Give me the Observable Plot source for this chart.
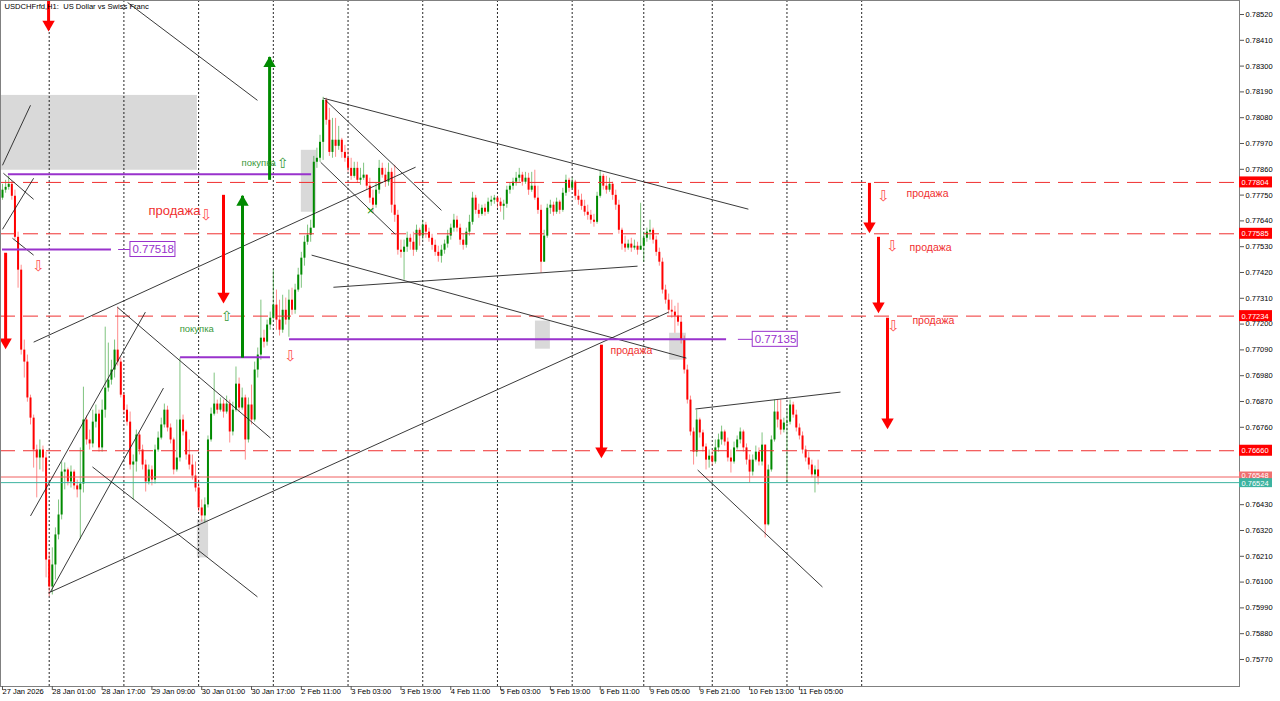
<!DOCTYPE html>
<html><head><meta charset="utf-8">
<script src="https://cdn.jsdelivr.net/npm/d3@7"></script>
<script src="https://cdn.jsdelivr.net/npm/@observablehq/plot@0.6"></script>
<style>html,body{margin:0;padding:0;background:#fff}svg{display:block}</style>
</head><body><div id="chart"></div>
<script>
// ---------- data ----------
const title = "USDCHFrfd,H1:  US Dollar vs Swiss Franc";
const firstOpen = 0.77737;
const closes = [
0.77771,0.77783,0.77796,0.77745,0.77570,0.77430,0.77089,0.77038,0.76885,0.76799,
0.76663,0.76629,0.76663,0.76629,0.76194,0.76079,0.76173,0.76301,0.76386,0.76569,
0.76578,0.76527,0.76569,0.76510,0.76493,0.76518,0.76791,0.76706,0.76689,0.76782,
0.76816,0.76672,0.76833,0.76927,0.76961,0.77004,0.77089,0.77038,0.76897,0.76833,
0.76782,0.76599,0.76612,0.76727,0.76663,0.76599,0.76527,0.76578,0.76535,0.76663,
0.76714,0.76770,0.76833,0.76757,0.76706,0.76578,0.76629,0.76791,0.76740,0.76642,
0.76599,0.76552,0.76501,0.76416,0.76382,0.76429,0.76706,0.76816,0.76859,0.76833,
0.76859,0.76825,0.76859,0.76740,0.76833,0.76944,0.76842,0.76885,0.76706,0.76855,
0.76791,0.77004,0.77068,0.77140,0.77123,0.77196,0.77225,0.77281,0.77217,0.77174,
0.77259,0.77217,0.77302,0.77259,0.77345,0.77409,0.77481,0.77549,0.77579,0.77609,
0.77890,0.77907,0.77975,0.78154,0.78069,0.77932,0.77984,0.77958,0.77984,0.77932,
0.77907,0.77864,0.77830,0.77864,0.77813,0.77822,0.77835,0.77788,0.77737,0.77707,
0.77771,0.77864,0.77835,0.77805,0.77847,0.77707,0.77664,0.77515,0.77506,0.77528,
0.77566,0.77549,0.77515,0.77600,0.77575,0.77622,0.77592,0.77566,0.77536,0.77506,
0.77489,0.77515,0.77541,0.77575,0.77609,0.77643,0.77609,0.77558,0.77536,0.77592,
0.77634,0.77737,0.77685,0.77668,0.77694,0.77677,0.77720,0.77728,0.77737,0.77720,
0.77702,0.77711,0.77771,0.77788,0.77805,0.77822,0.77835,0.77805,0.77822,0.77771,
0.77788,0.77737,0.77685,0.77464,0.77575,0.77694,0.77707,0.77677,0.77720,0.77685,
0.77758,0.77813,0.77779,0.77805,0.77745,0.77728,0.77702,0.77677,0.77664,0.77643,
0.77634,0.77745,0.77830,0.77788,0.77771,0.77796,0.77749,0.77707,0.77600,0.77541,
0.77524,0.77541,0.77524,0.77532,0.77515,0.77532,0.77566,0.77592,0.77600,0.77558,
0.77506,0.77464,0.77345,0.77302,0.77259,0.77251,0.77234,0.77208,0.77132,0.77004,
0.76876,0.76740,0.76654,0.76791,0.76736,0.76676,0.76620,0.76637,0.76612,0.76672,
0.76706,0.76740,0.76697,0.76629,0.76612,0.76672,0.76706,0.76740,0.76672,0.76620,
0.76569,0.76620,0.76654,0.76612,0.76684,0.76344,0.76578,0.76706,0.76825,0.76791,
0.76748,0.76778,0.76782,0.76855,0.76812,0.76757,0.76723,0.76663,0.76629,0.76599,
0.76557,0.76578,0.76548];
const highs = [
0.77796,0.77813,0.77830,0.77809,0.77771,0.77592,0.77451,0.77132,0.77068,0.76897,
0.76812,0.76684,0.76706,0.76680,0.76654,0.76228,0.76246,0.76331,0.76450,0.76612,
0.76608,0.76586,0.76595,0.76578,0.76535,0.76672,0.76931,0.76808,0.76748,0.76833,
0.76855,0.76833,0.76876,0.77187,0.77119,0.77046,0.77132,0.77272,0.77055,0.76906,
0.76855,0.76825,0.76642,0.76748,0.76736,0.76684,0.76620,0.76599,0.76595,0.76684,
0.76740,0.76799,0.76859,0.76850,0.76774,0.76714,0.76791,0.77055,0.76812,0.76748,
0.76706,0.76642,0.76612,0.76535,0.76450,0.76459,0.76723,0.76842,0.76991,0.76876,
0.76885,0.76876,0.76893,0.76876,0.76867,0.77017,0.76970,0.76927,0.76897,0.76885,
0.76940,0.77038,0.77098,0.77302,0.77174,0.77217,0.77251,0.77430,0.77345,0.77302,
0.77323,0.77311,0.77345,0.77353,0.77370,0.77438,0.77506,0.77575,0.77622,0.77643,
0.77915,0.77950,0.78005,0.78167,0.78163,0.78120,0.78077,0.78077,0.78043,0.77992,
0.77962,0.77941,0.77907,0.77890,0.77890,0.77864,0.77886,0.77835,0.77822,0.77771,
0.77800,0.77898,0.77886,0.77864,0.77886,0.77864,0.77877,0.77685,0.77558,0.77558,
0.77592,0.77583,0.77592,0.77622,0.77609,0.77643,0.77634,0.77609,0.77583,0.77558,
0.77532,0.77536,0.77558,0.77600,0.77626,0.77668,0.77660,0.77626,0.77583,0.77609,
0.77664,0.77762,0.77749,0.77711,0.77707,0.77711,0.77737,0.77745,0.77749,0.77745,
0.77737,0.77728,0.77788,0.77800,0.77822,0.77847,0.77864,0.77847,0.77847,0.77843,
0.77847,0.77856,0.77788,0.77707,0.77600,0.77711,0.77728,0.77720,0.77737,0.77728,
0.77779,0.77835,0.77822,0.77822,0.77813,0.77771,0.77754,0.77728,0.77707,0.77685,
0.77668,0.77762,0.77856,0.77839,0.77830,0.77822,0.77805,0.77771,0.77728,0.77609,
0.77575,0.77558,0.77566,0.77558,0.77549,0.77715,0.77592,0.77609,0.77643,0.77609,
0.77575,0.77524,0.77481,0.77366,0.77328,0.77302,0.77276,0.77289,0.77234,0.77149,
0.77025,0.76893,0.76757,0.76833,0.76799,0.76748,0.76689,0.76663,0.76663,0.76706,
0.76731,0.76765,0.76748,0.76714,0.76663,0.76697,0.76723,0.76757,0.76748,0.76689,
0.76642,0.76642,0.76680,0.76672,0.76736,0.76684,0.76599,0.76723,0.76876,0.76876,
0.76876,0.76799,0.76833,0.76876,0.76867,0.76833,0.76774,0.76740,0.76680,0.76654,
0.76620,0.76595,0.76620];
const lows = [
0.77728,0.77758,0.77771,0.77728,0.77558,0.77353,0.77068,0.76970,0.76867,0.76770,
0.76586,0.76459,0.76578,0.76569,0.76118,0.76037,0.76045,0.76109,0.76280,0.76365,
0.76493,0.76510,0.76501,0.76493,0.76459,0.76280,0.76480,0.76684,0.76663,0.76672,
0.76757,0.76654,0.76654,0.76799,0.76910,0.76940,0.76970,0.77021,0.76885,0.76812,
0.76765,0.76578,0.76450,0.76569,0.76642,0.76578,0.76484,0.76514,0.76510,0.76518,
0.76654,0.76706,0.76757,0.76740,0.76689,0.76557,0.76569,0.76612,0.76723,0.76620,
0.76578,0.76535,0.76484,0.76399,0.76356,0.76352,0.76416,0.76697,0.76808,0.76816,
0.76825,0.76799,0.76816,0.76693,0.76723,0.76825,0.76825,0.76833,0.76620,0.76693,
0.76770,0.76782,0.76970,0.77046,0.77098,0.77106,0.77174,0.77217,0.77174,0.77149,
0.77161,0.77196,0.77144,0.77238,0.77242,0.77336,0.77353,0.77447,0.77536,0.77549,
0.77609,0.77864,0.77890,0.77898,0.78048,0.77915,0.77907,0.77911,0.77941,0.77907,
0.77890,0.77847,0.77813,0.77822,0.77800,0.77792,0.77813,0.77771,0.77715,0.77673,
0.77694,0.77754,0.77822,0.77783,0.77788,0.77673,0.77634,0.77494,0.77481,0.77387,
0.77506,0.77515,0.77489,0.77506,0.77532,0.77558,0.77566,0.77549,0.77515,0.77489,
0.77464,0.77460,0.77498,0.77524,0.77558,0.77592,0.77592,0.77536,0.77515,0.77524,
0.77575,0.77622,0.77668,0.77651,0.77660,0.77660,0.77668,0.77702,0.77711,0.77694,
0.77677,0.77643,0.77694,0.77754,0.77771,0.77788,0.77805,0.77788,0.77796,0.77749,
0.77762,0.77728,0.77668,0.77417,0.77464,0.77566,0.77668,0.77660,0.77668,0.77668,
0.77677,0.77745,0.77762,0.77771,0.77728,0.77707,0.77685,0.77660,0.77643,0.77626,
0.77613,0.77626,0.77737,0.77771,0.77754,0.77762,0.77728,0.77685,0.77583,0.77515,
0.77506,0.77515,0.77506,0.77515,0.77494,0.77515,0.77464,0.77549,0.77558,0.77541,
0.77489,0.77447,0.77328,0.77285,0.77242,0.77225,0.77161,0.77191,0.77115,0.76987,
0.76859,0.76723,0.76599,0.76633,0.76714,0.76654,0.76578,0.76586,0.76595,0.76603,
0.76654,0.76684,0.76680,0.76612,0.76565,0.76603,0.76663,0.76689,0.76654,0.76599,
0.76522,0.76552,0.76612,0.76595,0.76595,0.76288,0.76339,0.76569,0.76697,0.76757,
0.76727,0.76736,0.76522,0.76770,0.76799,0.76740,0.76706,0.76646,0.76612,0.76578,
0.76544,0.76480,0.76514];

const timeLabels = ["27 Jan 2026","28 Jan 01:00","28 Jan 17:00","29 Jan 09:00","30 Jan 01:00","30 Jan 17:00",
  "2 Feb 11:00","3 Feb 03:00","3 Feb 19:00","4 Feb 11:00","5 Feb 03:00","5 Feb 19:00","6 Feb 11:00",
  "9 Feb 05:00","9 Feb 21:00","10 Feb 13:00","11 Feb 05:00"];
const barsPerLabel = 16;
const daySeparators = [15, 39, 63, 87, 111, 135, 159, 183, 206, 228, 252, 276]; // bar index of each new day
const priceTicks = [0.78520,0.78410,0.78300,0.78190,0.78080,0.77970,0.77860,0.77750,0.77640,0.77530,0.77420,
  0.77310,0.77200,0.77090,0.76980,0.76870,0.76760,0.76650,0.76540,0.76430,0.76320,0.76210,0.76100,0.75990,0.75880,0.75770];
const coveredTicks = [0.76650, 0.76540]; // hidden behind the price labels

const sellLevels = [0.77804, 0.77585, 0.77234, 0.76660];
const bidPrice = 0.76548, askPrice = 0.76524;

// trend lines: bar index / price of both ends
const trendLines = [
  {i1:40.2,p1:0.78571,i2:81.9,p2:0.78154},
  {i1:0,p1:0.77877,i2:9,p2:0.78133},
  {i1:0.3,p1:0.77843,i2:10,p2:0.77732},
  {i1:0,p1:0.77604,i2:10,p2:0.77822},
  {i1:3.2,p1:0.77566,i2:10,p2:0.77494},
  {i1:10,p1:0.77123,i2:132.7,p2:0.77869},
  {i1:14.8,p1:0.76054,i2:214,p2:0.77251},
  {i1:9,p1:0.76382,i2:45.9,p2:0.77251},
  {i1:15.4,p1:0.76058,i2:51.7,p2:0.76927},
  {i1:36.9,p1:0.77272,i2:86.1,p2:0.76714},
  {i1:28.9,p1:0.76591,i2:81.9,p2:0.76037},
  {i1:99.3,p1:0.77494,i2:219.7,p2:0.77055},
  {i1:106.3,p1:0.77357,i2:204,p2:0.77447},
  {i1:103.1,p1:0.78163,i2:239.6,p2:0.77690},
  {i1:103.8,p1:0.78154,i2:141,p2:0.77685},
  {i1:102.2,p1:0.77890,i2:126.2,p2:0.77583},
  {i1:222.6,p1:0.76838,i2:269.2,p2:0.76910},
  {i1:223.3,p1:0.76578,i2:263.4,p2:0.76079}
];
const grayBoxes = [
  {i1:-0.7,i2:62.6,p1:0.78175,p2:0.77856},
  {i1:96,i2:100.9,p1:0.77941,p2:0.77677},
  {i1:171.2,i2:176,p1:0.77213,p2:0.77093},
  {i1:214.3,i2:219.7,p1:0.77161,p2:0.77046},
  {i1:62.6,i2:66.2,p1:0.76365,p2:0.76203}
];
const purpleLines = [
  {i1:1.9,i2:99.3,p:0.77839},
  {i1:0,i2:35,p:0.77518},
  {i1:57.2,i2:86.1,p:0.77059},
  {i1:92.2,i2:232.6,p:0.77135}
];
const purpleLabels = [
  {c1:37.3,c2:41.1,p:0.77518,text:"0.77518"},
  {c1:236.4,c2:241,p:0.77135,text:"0.77135"}
];
const sellArrows = [
  {i:14.8,from:0.78580,to:0.78452},
  {i:1.0,from:0.77502,to:0.77098},
  {i:71,from:0.77749,to:0.77293},
  {i:192.4,from:0.77110,to:0.76633},
  {i:278.5,from:0.77800,to:0.77592},
  {i:281.4,from:0.77570,to:0.77251},
  {i:284.3,from:0.77225,to:0.76757}
];
const buyArrows = [
  {i:77.1,from:0.77089,to:0.77745},
  {i:85.8,from:0.77847,to:0.78337}
];
const sellMarks = [
  {i:65.5,p:0.77664},{i:11.6,p:0.77447},{i:92.5,p:0.77063},
  {i:283,p:0.77745},{i:285.9,p:0.77532},{i:286.2,p:0.77191}
];
const buyMarks = [{i:72,p:0.77234},{i:90,p:0.77886}];
const sellTextBig = [{i:46.9,p:0.77681,t:"продажа"}];
const sellTexts = [
  {i:195.3,p:0.77085,t:"продажа"},
  {i:290.4,p:0.77758,t:"продажа"},
  {i:291.4,p:0.77528,t:"продажа"},
  {i:292.3,p:0.77213,t:"продажа"}
];
const buyTexts = [{i:76.8,p:0.77886,t:"покупка"},{i:56.9,p:0.77178,t:"покупка"}];
const crossMarks = [{i:118.2,p:0.77685}];

// ---------- build ----------
const bars = closes.map((c, i) => {
  const o = i === 0 ? firstOpen : closes[i - 1];
  return {i, o, c, h: Math.max(highs[i], o, c), l: Math.min(lows[i], o, c)};
});
const up = bars.filter(d => d.c >= d.o);
const down = bars.filter(d => d.c < d.o);
const xDomain = [-0.642, 397.37];
const xMax = xDomain[1];
const RED = "#ff0000", GREEN = "#008a00", PURPLE = "#9932cc";
const FONT = "Liberation Sans, Arial, sans-serif";
const labelTicks = priceTicks.filter(t => !coveredTicks.includes(t));

const chart = Plot.plot({
  width: 1280, height: 701,
  marginLeft: 0, marginRight: 41, marginTop: 0, marginBottom: 15,
  x: {type: "linear", domain: xDomain, axis: null},
  y: {domain: [0.756548, 0.785797], axis: null},
  style: {fontFamily: FONT, background: "#fff", overflow: "visible", color: "#000"},
  marks: [
    Plot.rect(grayBoxes, {x1: "i1", x2: "i2", y1: "p1", y2: "p2", fill: "#d9d9d9"}),
    Plot.ruleX(daySeparators, {stroke: "#000", strokeWidth: 1, strokeDasharray: "2,2", strokeOpacity: 0.85}),
    // candles
    Plot.ruleX(up, {x: "i", y1: "l", y2: "h", stroke: GREEN, strokeOpacity: 0.5}),
    Plot.ruleX(down, {x: "i", y1: "l", y2: "h", stroke: RED, strokeOpacity: 0.45}),
    Plot.ruleX(up, {x: "i", y1: "o", y2: "c", stroke: GREEN, strokeWidth: 2}),
    Plot.ruleX(down, {x: "i", y1: "o", y2: "c", stroke: RED, strokeWidth: 2}),
    // levels
    Plot.ruleY(sellLevels, {stroke: "#f03030", strokeWidth: 1, strokeDasharray: "15,8"}),
    Plot.ruleY([bidPrice], {stroke: "#f06060", strokeWidth: 1}),
    Plot.ruleY([askPrice], {stroke: "#3cb3a0", strokeWidth: 1}),
    // trend lines
    Plot.link(trendLines, {x1: "i1", y1: "p1", x2: "i2", y2: "p2", stroke: "#222", strokeWidth: 0.9}),
    // purple price lines
    Plot.ruleY(purpleLines, {y: "p", x1: "i1", x2: "i2", stroke: PURPLE, strokeWidth: 2}),
    Plot.ruleY(purpleLabels, {y: "p", x1: "c1", x2: "c2", stroke: PURPLE, strokeWidth: 1}),
    Plot.rect(purpleLabels, {x1: "c2", x2: "c2", y1: "p", y2: "p", insetRight: -45, insetTop: -7.5, insetBottom: -7.5, fill: "#fff", stroke: PURPLE, strokeWidth: 1}),
    Plot.text(purpleLabels, {x: "c2", y: "p", text: "text", dx: 2, textAnchor: "start", fill: PURPLE, fontSize: 11.5}),
    // big arrows
    Plot.ruleX(sellArrows, {x: "i", y1: "from", y2: "to", stroke: RED, strokeWidth: 3, insetBottom: 8}),
    Plot.dot(sellArrows, {x: "i", y: "to", symbol: "triangle", r: 4.6, fill: RED, stroke: "none", rotate: 180, dy: -6}),
    Plot.ruleX(buyArrows, {x: "i", y1: "from", y2: "to", stroke: GREEN, strokeWidth: 3, insetTop: 8}),
    Plot.dot(buyArrows, {x: "i", y: "to", symbol: "triangle", r: 4.6, fill: GREEN, stroke: "none", dy: 6}),
    // hollow signal arrows
    Plot.text(sellMarks, {x: "i", y: "p", text: () => "\u21E9", fill: "#ff5050", fontSize: 15, fontFamily: "DejaVu Sans"}),
    Plot.text(buyMarks, {x: "i", y: "p", text: () => "\u21E7", fill: "#3a9a3a", fontSize: 14, fontFamily: "DejaVu Sans"}),
    Plot.text(crossMarks, {x: "i", y: "p", text: () => "\u00D7", fill: GREEN, fontSize: 13}),
    // signal words
    Plot.text(sellTextBig, {x: "i", y: "p", text: "t", textAnchor: "start", fill: "#f03030", fontSize: 13}),
    Plot.text(sellTexts, {x: "i", y: "p", text: "t", textAnchor: "start", fill: "#f03030", fontSize: 10.5}),
    Plot.text(buyTexts, {x: "i", y: "p", text: "t", textAnchor: "start", fill: "#3a9a3a", fontSize: 9.5}),
    // frame & axes
    Plot.frame({stroke: "#808080"}),
    Plot.axisY({anchor: "right", ticks: labelTicks, tickFormat: d3.format(".5f"), tickSize: 4, tickPadding: 2, fontSize: 7.5, stroke: "#555", fill: "#000"}),
    Plot.axisY({anchor: "right", ticks: coveredTicks, tickFormat: () => null, tickSize: 4, stroke: "#555"}),
    Plot.axisX({ticks: timeLabels.map((t, k) => k * barsPerLabel), tickFormat: d => timeLabels[Math.round(d / barsPerLabel)], textAnchor: "start", tickSize: 4, tickPadding: -2, fontSize: 7.5, stroke: "#555", fill: "#000"}),
    // right-side price labels
    Plot.rect(sellLevels, {x1: () => xMax, x2: () => xMax, y1: d => d, y2: d => d, insetRight: -33, insetTop: -5.5, insetBottom: -5.5, fill: RED}),
    Plot.text(sellLevels, {x: () => xMax, y: d => d, text: d => d.toFixed(5), dx: 2, textAnchor: "start", fill: "#fff", fontSize: 7.5}),
    Plot.rect([bidPrice], {x1: () => xMax, x2: () => xMax, y1: d => d, y2: d => d, insetRight: -33, insetTop: -5, insetBottom: -4, fill: "#f07070"}),
    Plot.text([bidPrice], {x: () => xMax, y: d => d, text: d => d.toFixed(5), dx: 2, dy: -1, textAnchor: "start", fill: "#fff", fontSize: 7.5}),
    Plot.rect([askPrice], {x1: () => xMax, x2: () => xMax, y1: d => d, y2: d => d, insetRight: -33, insetTop: -4, insetBottom: -5, fill: "#3cb3a0"}),
    Plot.text([askPrice], {x: () => xMax, y: d => d, text: d => d.toFixed(5), dx: 2, dy: 1, textAnchor: "start", fill: "#fff", fontSize: 7.5}),
    // title
    Plot.text([title], {frameAnchor: "top-left", dx: 4, dy: 3, lineAnchor: "top", textAnchor: "start", fill: "#000", fontSize: 7.6})
  ]
});
document.getElementById("chart").appendChild(chart);
</script>
</body></html>
